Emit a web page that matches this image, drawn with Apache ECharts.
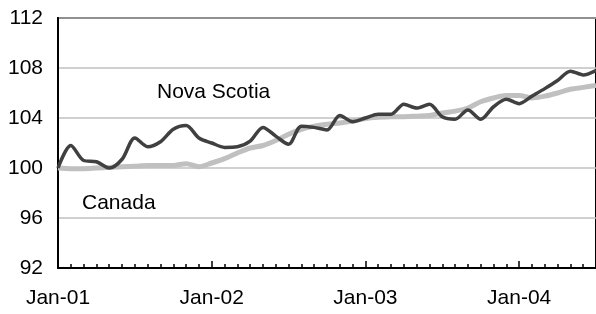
<!DOCTYPE html>
<html>
<head>
    <meta charset="UTF-8">
    <script src="https://cdn.jsdelivr.net/npm/echarts@6/dist/echarts.min.js"></script>
    <style>
        html, body { margin: 0; padding: 0; background: #fff; }
        #main { width: 596px; height: 314px; }
    </style>
</head>
<body>
<div id="main"></div>
<script>
    // monthly categories, Jan-01 .. Jul-04
    var months = [
        'Jan-01','Feb-01','Mar-01','Apr-01','May-01','Jun-01','Jul-01','Aug-01','Sep-01','Oct-01','Nov-01','Dec-01',
        'Jan-02','Feb-02','Mar-02','Apr-02','May-02','Jun-02','Jul-02','Aug-02','Sep-02','Oct-02','Nov-02','Dec-02',
        'Jan-03','Feb-03','Mar-03','Apr-03','May-03','Jun-03','Jul-03','Aug-03','Sep-03','Oct-03','Nov-03','Dec-03',
        'Jan-04','Feb-04','Mar-04','Apr-04','May-04','Jun-04','Jul-04'
    ];

    var novaScotia = [
        100.0, 101.8, 100.6, 100.5, 100.0, 100.7, 102.4, 101.7, 102.1, 103.1, 103.4, 102.4,
        102.0, 101.65, 101.7, 102.15, 103.25, 102.55, 101.9, 103.35, 103.25, 103.05, 104.2, 103.7,
        104.0, 104.3, 104.3, 105.1, 104.8, 105.1, 104.1, 103.9, 104.65, 103.9, 104.9, 105.5,
        105.15, 105.75, 106.35, 107.0, 107.75, 107.45, 107.8
    ];

    var canada = [
        100.0, 99.95, 99.95, 100.0, 100.05, 100.1, 100.15, 100.2, 100.2, 100.2, 100.35, 100.1,
        100.4, 100.75, 101.2, 101.6, 101.8, 102.2, 102.7, 103.1, 103.35, 103.5, 103.6, 103.75,
        103.95, 104.05, 104.1, 104.1, 104.15, 104.2, 104.4, 104.55, 104.8, 105.3, 105.6, 105.8,
        105.8, 105.6, 105.75, 106.0, 106.3, 106.45, 106.6
    ];

    var yTicks = { min: 92, max: 112, step: 4 };

    var font = 'Liberation Sans, Arial, sans-serif';

    var myChart = echarts.init(document.getElementById('main'));

    var option = {
        animation: false,
        grid: {
            left: 58,
            top: 18,
            right: -4,
            bottom: 46,
            show: true,
            borderColor: '#000',
            borderWidth: 2,
            backgroundColor: 'transparent'
        },
        xAxis: [
            {
                type: 'category',
                data: months,
                boundaryGap: false,
                axisLine: { lineStyle: { color: '#000', width: 2 } },
                axisTick: { inside: true, interval: 0, length: 4, lineStyle: { color: '#000', width: 1.5 } },
                axisLabel: {
                    interval: 11,
                    color: '#000',
                    fontFamily: font,
                    fontSize: 21,
                    margin: 20
                },
                splitLine: { show: false }
            },
            {
                // taller ticks at each January
                type: 'category',
                data: months,
                boundaryGap: false,
                position: 'bottom',
                axisLine: { show: false },
                axisTick: { inside: true, interval: 11, length: 7, lineStyle: { color: '#000', width: 1.5 } },
                axisLabel: { show: false },
                splitLine: { show: false }
            }
        ],
        yAxis: {
            type: 'value',
            min: yTicks.min,
            max: yTicks.max,
            interval: yTicks.step,
            axisLine: { show: true, lineStyle: { color: '#000', width: 2 } },
            axisTick: { show: false },
            axisLabel: {
                color: '#000',
                fontFamily: font,
                fontSize: 21,
                margin: 15
            },
            splitLine: { lineStyle: { color: '#c0c0c0', width: 1.5 } }
        },
        graphic: [
            {
                type: 'text',
                left: 157,
                top: 82,
                style: { text: 'Nova Scotia', fill: '#000', font: '21px ' + font }
            },
            {
                type: 'text',
                left: 82,
                top: 193,
                style: { text: 'Canada', fill: '#000', font: '21px ' + font }
            }
        ],
        series: [
            {
                name: 'Canada',
                type: 'line',
                data: canada,
                smooth: 0.3,
                symbol: 'none',
                lineStyle: { color: '#c0c0c0', width: 5 }
            },
            {
                name: 'Nova Scotia',
                type: 'line',
                data: novaScotia,
                smooth: 0.3,
                symbol: 'none',
                lineStyle: { color: '#404040', width: 3.5 }
            }
        ]
    };

    myChart.setOption(option);
</script>
</body>
</html>
